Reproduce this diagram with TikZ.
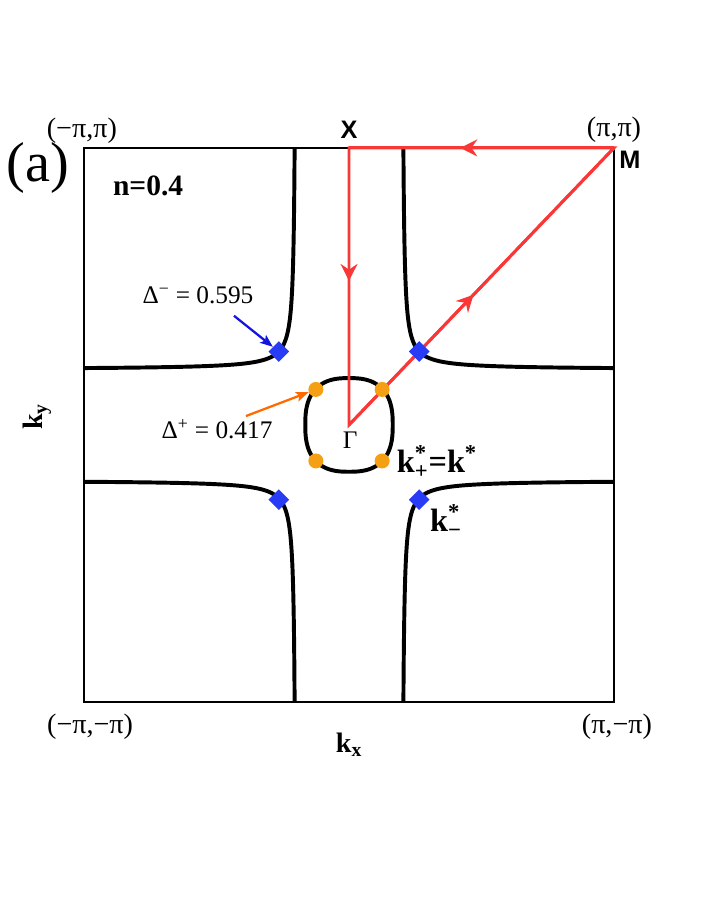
\documentclass[tikz,border=0pt]{standalone}
\usepackage{fontspec}
\setmainfont{Liberation Serif}
\newfontfamily\arialfont{Liberation Sans}
\usetikzlibrary{arrows.meta,shapes.geometric,decorations.markings}
\definecolor{pathred}{RGB}{250,55,55}
\definecolor{gapblue}{RGB}{40,60,245}
\definecolor{gaporange}{RGB}{245,160,20}
\definecolor{ptrblue}{RGB}{20,20,225}
\definecolor{ptrorange}{RGB}{255,105,0}
\tikzset{
  fs/.style={line width=2.8pt},
  minpt/.style={diamond,fill=gapblue,inner sep=0pt,minimum size=0.52cm},
  maxpt/.style={circle,fill=gaporange,inner sep=0pt,minimum size=0.375cm},
  arr/.style={postaction={decorate},decoration={markings,
    mark=at position #1 with {\arrow{Stealth[length=12pt,width=12pt,inset=4pt]}}}},
  ptr/.style={line width=1.6pt,-{Stealth[length=9pt,width=7pt,inset=2pt]}},
  lbl/.style={font=\fontsize{18}{21}\selectfont},
  corner/.style={font=\fontsize{20}{24}\selectfont},
}
\begin{document}
\begin{tikzpicture}[x=6.625cm,y=6.925cm]
\useasboundingbox (-1.317,-1.762) rectangle (1.347,1.534);
\coordinate (G) at (0,0);
\coordinate (X) at (0,1);
\coordinate (M) at (1,1);
\begin{scope}
\clip (-1,-1) rectangle (1,1);
\foreach \sx in {-1,1}
  \foreach \sy in {-1,1}
    \draw[fs] plot[domain=-2.51:2.51,samples=60,smooth] ({\sx*(0.2+0.065*exp(\x))},{\sy*(0.2+0.065*exp(-\x))});
\draw[fs] plot[domain=1.5:358.5,samples=120,smooth cycle] ({0.165*sign(cos(\x))*abs(cos(\x))^(0.77)},{0.169*sign(sin(\x))*abs(sin(\x))^(0.77)});
\end{scope}
\draw[line width=1.4pt] (-1,-1) rectangle (1,1);
\draw[pathred,line width=2.1pt,line join=miter] (G) -- (M) -- (X) -- cycle;
\draw[pathred,line width=2.1pt,arr=0.58] (M) -- (X);
\draw[pathred,line width=2.1pt,arr=0.48] (X) -- (G);
\draw[pathred,line width=2.1pt,arr=0.47] (G) -- (M);
\node[minpt] (d1) at (-0.265,0.265) {};
\node[minpt] (d2) at (0.265,0.265) {};
\node[minpt] (d3) at (-0.265,-0.27) {};
\node[minpt] (d4) at (0.265,-0.27) {};
\node[maxpt] (o1) at (-0.125,0.128) {};
\node[maxpt] (o2) at (0.125,0.128) {};
\node[maxpt] (o3) at (-0.125,-0.13) {};
\node[maxpt] (o4) at (0.125,-0.13) {};
\node[lbl] (lmin) at (-0.570,0.469) {Δ\textsuperscript{−} = 0.595};
\node[lbl] (lplus) at (-0.498,-0.014) {Δ\textsuperscript{+} = 0.417};
\coordinate (bt) at (-0.434,0.394);
\coordinate (ot) at (-0.389,0.032);
\draw[ptr,ptrblue] (bt) -- (d1);
\draw[ptr,ptrorange] (ot) -- (o1);
\node[font=\fontsize{18}{20}\selectfont] (gam) at (0.004,-0.055) {Γ};
\node[corner] (c1) at (-1.008,1.062) {(−π,π)};
\node[corner] (c2) at (1.0,1.065) {(π,π)};
\node[corner] (c3) at (-0.977,-1.09) {(−π,−π)};
\node[corner] (c4) at (1.011,-1.09) {(π,−π)};
\node[font=\arialfont\bfseries\fontsize{18}{20}\selectfont] (xl) at (0,1.065) {X};
\node[font=\arialfont\bfseries\fontsize{18}{20}\selectfont] (ml) at (1.06,0.957) {M};
\node[font=\fontsize{40}{46}\selectfont] (pa) at (-1.174,0.928) {(a)};
\node[font=\bfseries\fontsize{21}{24}\selectfont] (nl) at (-0.758,0.863) {n=0.4};
\node[font=\bfseries\fontsize{20}{24}\selectfont,rotate=90] (ky) at (-1.177,0.029) {k\textsubscript{y}};
\node[font=\bfseries\fontsize{20}{24}\selectfont] (kx) at (0,-1.155) {k\textsubscript{x}};
\node[font=\bfseries\fontsize{23}{26}\selectfont,anchor=base west,inner sep=0pt] (kp) at (0.18,-0.173) {k\rlap{\textsuperscript{*}}\textsubscript{+}=k\textsuperscript{*}};
\node[font=\bfseries\fontsize{23}{26}\selectfont,anchor=base west,inner sep=0pt] (km) at (0.305,-0.386) {k\rlap{\textsuperscript{*}}\textsubscript{−}};
\end{tikzpicture}
\end{document}
